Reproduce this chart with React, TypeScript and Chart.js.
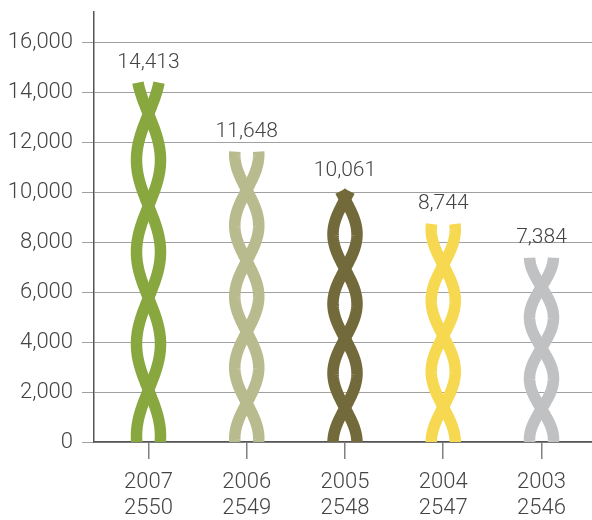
import { useEffect, useRef } from 'react';
import { Chart, registerables } from 'chart.js';

Chart.register(...registerables);

// ---- data ----
const yearsAD = ['2007', '2006', '2005', '2004', '2003'];
const yearsBE = ['2550', '2549', '2548', '2547', '2546'];
const values = [14413, 11648, 10061, 8744, 7384];
const yTickValues = [0, 2000, 4000, 6000, 8000, 10000, 12000, 14000, 16000];

// ---- styles ----
const ropeColors = ['#88a83f', '#b8bb8e', '#736a3c', '#f6d951', '#c0c1c3'];
const twistSpacing = [92, 71, 69.5, 71, 61];
const firstCross = [52, 39, 34, 35, 33];
const TEXT = '#444444';
const FONT = 'Roboto, "Liberation Sans", sans-serif';

const ropePlugin = {
  id: 'ropes',
  afterDatasetsDraw(chart: any) {
    const { ctx } = chart;
    const x = chart.scales.x;
    const y = chart.scales.y;
    const base = y.getPixelForValue(0);
    const A = 12;
    values.forEach((v, i) => {
      const cx = x.getPixelForValue(i);
      const top = y.getPixelForValue(v);
      const H = base - top;
      const P = twistSpacing[i];
      const c0 = firstCross[i];
      ctx.save();
      ctx.beginPath();
      ctx.rect(cx - 40, top - 30, 80, H + 30);
      ctx.clip();
      ctx.strokeStyle = ropeColors[i];
      ctx.lineWidth = 11.5;
      ctx.lineCap = 'butt';
      ctx.lineJoin = 'round';
      for (const sgn of [1, -1]) {
        ctx.beginPath();
        const steps = Math.ceil(H);
        for (let k = -2; k <= steps; k++) {
          const d = Math.min(k, H);
          const off = sgn * A * Math.sin((Math.PI * (d - c0)) / P);
          const py = base - d;
          if (k === -2) ctx.moveTo(cx + off, py);
          else ctx.lineTo(cx + off, py);
        }
        ctx.stroke();
      }
      ctx.restore();

      ctx.save();
      ctx.fillStyle = TEXT;
      ctx.font = `300 21px ${FONT}`;
      ctx.textAlign = 'center';
      ctx.textBaseline = 'middle';
      ctx.fillText(v.toLocaleString('en-US'), cx, top - 20);
      ctx.restore();
    });
  },
};

export default function App() {
  const ref = useRef<HTMLCanvasElement | null>(null);

  useEffect(() => {
    document.body.style.margin = '0';
    const canvas = ref.current;
    if (!canvas) return;
    const chart = new Chart(canvas, {
      type: 'bar',
      data: {
        datasets: [
          {
            data: values.map((v, i) => ({ x: i, y: v })),
            backgroundColor: 'rgba(0,0,0,0)',
            borderWidth: 0,
          },
        ],
      },
      options: {
        animation: false,
        responsive: false,
        layout: { padding: { top: 12, right: 0, left: 0, bottom: 0 } },
        plugins: { legend: { display: false }, tooltip: { enabled: false } },
        scales: {
          x: {
            type: 'linear',
            offset: false,
            min: -0.5547,
            max: 4.514,
            afterBuildTicks: (s: any) => {
              s.ticks = yearsAD.map((_, i) => ({ value: i }));
            },
            ticks: {
              autoSkip: false,
              maxRotation: 0,
              color: TEXT,
              padding: 10,
              font: { family: FONT, size: 22, weight: '300', lineHeight: 1.2 },
              callback: (val: any) => {
                const n = Math.round(Number(val));
                return n >= 0 && n < yearsAD.length ? [yearsAD[n], yearsBE[n]] : '';
              },
            },
            grid: {
              display: true,
              offset: false,
              drawOnChartArea: false,
              drawTicks: true,
              tickLength: 17,
              color: '#808080',
              lineWidth: 1.5,
            },
            border: { display: true, color: '#555555', width: 1.5 },
            afterFit: (s: any) => {
              s.height = 78;
              s.paddingLeft = 0;
              s.paddingRight = 0;
            },
          },
          y: {
            min: 0,
            max: 17243,
            afterBuildTicks: (s: any) => {
              s.ticks = yTickValues.map((v) => ({ value: v }));
            },
            ticks: {
              autoSkip: false,
              color: TEXT,
              padding: 9,
              font: { family: FONT, size: 22, weight: '300' },
              callback: (val: any) => Number(val).toLocaleString('en-US'),
            },
            grid: { color: '#a0a0a0', lineWidth: 1, tickLength: 12, drawTicks: true },
            border: { display: true, color: '#555555', width: 1.5 },
            afterFit: (s: any) => {
              s.width = 94;
              s.paddingTop = 0;
              s.paddingBottom = 0;
            },
          },
        },
      },
      plugins: [ropePlugin],
    } as any);
    return () => chart.destroy();
  }, []);

  return <canvas ref={ref} width={592} height={520} style={{ display: 'block' }} />;
}
